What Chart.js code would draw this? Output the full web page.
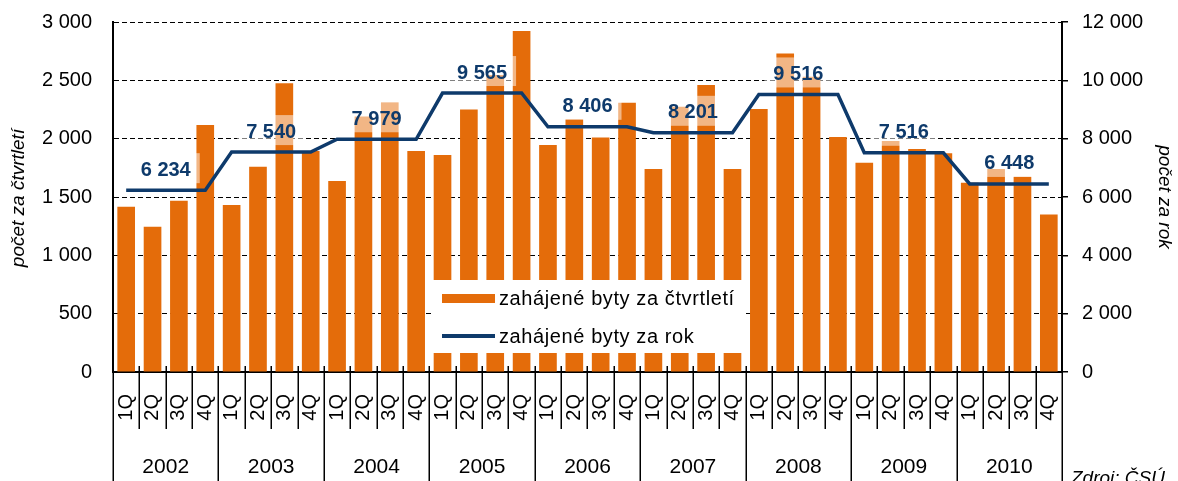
<!DOCTYPE html>
<html>
<head>
<meta charset="utf-8">
<script src="https://cdn.jsdelivr.net/npm/chart.js@4.4.1/dist/chart.umd.min.js"></script>
<style>
html,body{margin:0;padding:0;background:#fff;}
#wrap{width:1178px;height:481px;position:relative;}
</style>
</head>
<body>
<div id="wrap"><canvas id="c" width="1178" height="481"></canvas></div>
<script>
const years = ['2002','2003','2004','2005','2006','2007','2008','2009','2010'];
const quarters = ['1Q','2Q','3Q','4Q'];
const quarterlyStarts = [
  1417, 1245, 1468, 2117,
  1431, 1760, 2474, 1894,
  1637, 2189, 2309, 1894,
  1860, 2251, 2546, 2923,
  1946, 2166, 2011, 2308,
  1740, 2274, 2460, 1740,
  2254, 2731, 2531, 2014,
  1794, 1980, 1911, 1874,
  1623, 1740, 1674, 1351
];
const annualStarts = [6234, 7540, 7979, 9565, 8406, 8201, 9516, 7516, 6448];
const leftTicks = [0, 500, 1000, 1500, 2000, 2500, 3000];
const rightTicks = [0, 2000, 4000, 6000, 8000, 10000, 12000];
const seriesNames = ['zahájené byty za čtvrtletí', 'zahájené byty za rok'];
const leftTitle = 'počet za čtvrtletí';
const rightTitle = 'počet za rok';
const sourceText = 'Zdroj: ČSÚ';

const ORANGE = '#E46C0A';
const NAVY = '#0E3A6B';
const FONT = "'Liberation Sans', Arial, sans-serif";

const labels = [];
years.forEach(() => quarters.forEach(q => labels.push(q)));
const annualLine = quarterlyStarts.map((v, i) => annualStarts[Math.floor(i / 4)]);

function fmt(v) {
  const s = String(Math.round(v));
  return s.replace(/\B(?=(\d{3})+(?!\d))/g, ' ');
}

const decor = {
  id: 'decor',
  afterDraw(chart) {
    const ctx = chart.ctx;
    const x = chart.scales.x;
    const area = chart.chartArea;
    const n = labels.length;
    const step = x.getPixelForValue(1) - x.getPixelForValue(0);
    ctx.save();
    ctx.strokeStyle = '#000';
    ctx.lineWidth = 1.5;
    for (let i = 0; i <= n; i++) {
      const px = Math.round(x.getPixelForValue(0) - step / 2 + i * step) + 0.25;
      const isYear = i % 4 === 0;
      ctx.beginPath();
      ctx.moveTo(px, area.bottom - 6);
      ctx.lineTo(px, isYear ? 481 : 429);
      ctx.stroke();
    }
    ctx.fillStyle = '#000';
    ctx.font = '21px ' + FONT;
    ctx.textAlign = 'center';
    ctx.textBaseline = 'middle';
    years.forEach((yr, k) => {
      const cx = (x.getPixelForValue(4 * k + 1) + x.getPixelForValue(4 * k + 2)) / 2;
      ctx.fillText(yr, cx, 467);
    });
    ctx.font = 'italic 19px ' + FONT;
    ctx.save();
    ctx.translate(19, 198);
    ctx.rotate(-Math.PI / 2);
    ctx.fillText(leftTitle, 0, 0);
    ctx.restore();
    ctx.save();
    ctx.translate(1164, 197);
    ctx.rotate(Math.PI / 2);
    ctx.fillText(rightTitle, 0, 0);
    ctx.restore();
    ctx.textAlign = 'left';
    ctx.textBaseline = 'alphabetic';
    ctx.fillText(sourceText, 1071, 484);
    ctx.restore();
  },
  afterDatasetsDraw(chart) {
    const ctx = chart.ctx;
    const x = chart.scales.x, y2 = chart.scales.y2;
    ctx.save();
    ctx.font = 'bold 20px ' + FONT;
    ctx.textAlign = 'center';
    ctx.textBaseline = 'middle';
    annualStarts.forEach((v, k) => {
      const cx = (x.getPixelForValue(4 * k + 1) + x.getPixelForValue(4 * k + 2)) / 2;
      const ly = y2.getPixelForValue(v);
      const t = fmt(v);
      const w = ctx.measureText(t).width + 18;
      ctx.fillStyle = 'rgba(255,255,255,0.5)';
      ctx.fillRect(cx - w / 2, ly - 37, w, 30);
      ctx.fillStyle = NAVY;
      ctx.fillText(t, cx, ly - 20);
    });
    ctx.fillStyle = '#fff';
    ctx.fillRect(432, 280, 312, 73);
    ctx.fillStyle = ORANGE;
    ctx.fillRect(442, 294, 53, 9);
    ctx.strokeStyle = NAVY;
    ctx.lineWidth = 4;
    ctx.beginPath();
    ctx.moveTo(442, 336);
    ctx.lineTo(495, 336);
    ctx.stroke();
    ctx.fillStyle = '#000';
    ctx.font = '20px ' + FONT;
    ctx.textAlign = 'left';
    try { ctx.letterSpacing = '0.6px'; } catch (e) {}
    ctx.fillText(seriesNames[0], 499, 299);
    ctx.fillText(seriesNames[1], 499, 337);
    try { ctx.letterSpacing = '0px'; } catch (e) {}
    ctx.restore();
  }
};

new Chart(document.getElementById('c'), {
  data: {
    labels: labels,
    datasets: [
      {
        type: 'line',
        label: seriesNames[1],
        data: annualLine,
        yAxisID: 'y2',
        borderColor: NAVY,
        borderWidth: 3.5,
        pointRadius: 0,
        tension: 0,
        order: 0
      },
      {
        type: 'bar',
        label: seriesNames[0],
        data: quarterlyStarts,
        yAxisID: 'y',
        backgroundColor: ORANGE,
        barPercentage: 0.67,
        categoryPercentage: 1,
        order: 1
      }
    ]
  },
  options: {
    responsive: false,
    animation: false,
    devicePixelRatio: 1,
    layout: { padding: { top: 22, left: 0, right: 0, bottom: 0 } },
    plugins: { legend: { display: false }, tooltip: { enabled: false } },
    scales: {
      x: {
        type: 'category',
        grid: { display: false, drawTicks: false },
        border: { display: true, color: '#000', width: 2 },
        ticks: {
          autoSkip: false, minRotation: 90, maxRotation: 90, padding: 22,
          color: '#000', font: { family: FONT, size: 20 }
        },
        afterFit(s) { s.height = 109; s.paddingLeft = 0; s.paddingRight = 0; }
      },
      y: {
        position: 'left',
        min: 0, max: 3000,
        afterBuildTicks(s) { s.ticks = leftTicks.map(v => ({ value: v })); },
        grid: { color: '#000', lineWidth: 1, drawTicks: false },
        border: { display: true, color: '#000', width: 2, dash: [5, 3] },
        ticks: { padding: 21, color: '#000', font: { family: FONT, size: 20 }, callback: v => fmt(v) },
        afterFit(s) { s.width = 113; s.paddingTop = 0; s.paddingBottom = 0; }
      },
      y2: {
        position: 'right',
        min: 0, max: 12000,
        afterBuildTicks(s) { s.ticks = rightTicks.map(v => ({ value: v })); },
        grid: { drawOnChartArea: false, drawTicks: true, tickLength: 6, color: '#000', lineWidth: 1.5, tickBorderDash: [] },
        border: { display: true, color: '#000', width: 2 },
        ticks: { padding: 14, color: '#000', font: { family: FONT, size: 20 }, callback: v => fmt(v) },
        afterFit(s) { s.width = 116; s.paddingTop = 0; s.paddingBottom = 0; }
      }
    }
  },
  plugins: [decor]
});
</script>
</body>
</html>
